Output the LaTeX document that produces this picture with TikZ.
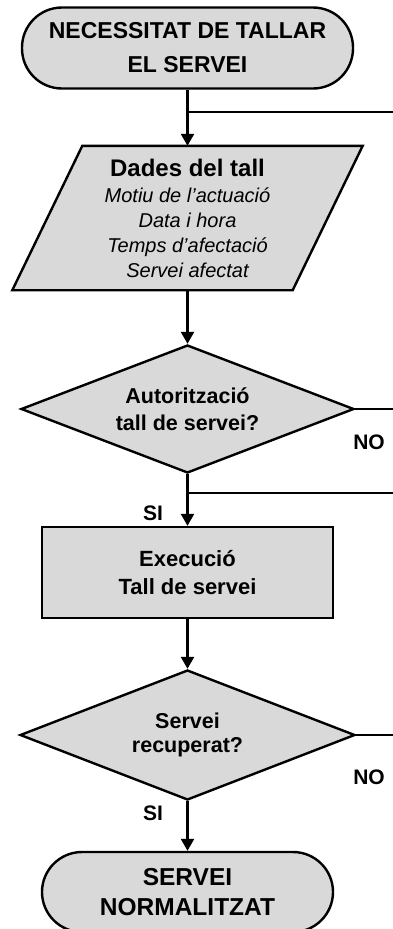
\documentclass[tikz,border=0pt]{standalone}
\usepackage{fontspec}
\setmainfont{Liberation Sans}
\usetikzlibrary{shapes.geometric,arrows.meta,backgrounds}
\definecolor{boxgray}{HTML}{D9D9D9}
\begin{document}
\begin{tikzpicture}[x=1pt,y=1pt,
  shapeline/.style={draw=black,line width=2.4pt,fill=boxgray},
  terminal/.style={shapeline,rounded corners=40pt,minimum width=331pt,minimum height=81pt,align=center},
  decision/.style={shapeline,diamond,shape aspect=2.6,inner sep=2pt,minimum width=333pt,minimum height=128pt,align=center,font=\bfseries\fontsize{21.5}{27}\selectfont},
  process/.style={shapeline,rectangle,minimum width=291pt,minimum height=91pt,align=center,font=\bfseries\fontsize{22}{28}\selectfont},
  flow/.style={line width=2.4pt,-{Triangle[length=12pt,width=13pt]}},
  link/.style={line width=2pt},
  lbl/.style={font=\bfseries\fontsize{21}{24}\selectfont}
]
\useasboundingbox (0,0) rectangle (393,-929);
\clip (0,0) rectangle (393,-929);

\node[terminal,font=\bfseries\fontsize{23}{34}\selectfont] (start) at (187.5,-48) {\raisebox{-5pt}{NECESSITAT DE TALLAR}\\\raisebox{-5pt}{EL SERVEI}};

\node[rectangle,minimum width=280pt,minimum height=144pt,inner sep=0pt,align=center,font=\fontsize{20}{25}\selectfont] (data) at (187.5,-218)
  {{\bfseries\fontsize{24}{28}\selectfont Dades del tall}\\[1pt]
   \itshape Motiu de l'actuació\\ \itshape Data i hora\\ \itshape Temps d'afectació\\ \itshape Servei afectat};
\begin{scope}[on background layer]
\draw[shapeline] ([xshift=-35pt]data.south west) -- ([xshift=-35pt]data.south east)
  -- ([xshift=35pt]data.north east) -- ([xshift=35pt]data.north west) -- cycle;
\end{scope}

\node[decision] (q1) at (187.5,-409) {Autorització\\tall de servei?};
\node[process] (exec) at (187.5,-572.5) {Execució\\Tall de servei};
\node[decision,font=\bfseries\fontsize{21.5}{24}\selectfont,minimum width=335pt,minimum height=130pt] (q2) at (187.5,-735) {Servei\\recuperat?};
\node[terminal,minimum width=291pt,minimum height=80pt,font=\bfseries\fontsize{24.5}{30}\selectfont] (stop) at (187.5,-892) {SERVEI\\NORMALITZAT};

\coordinate (j1) at (187.5,-112);
\coordinate (r1) at (393,-112);
\coordinate (r2) at (393,-409);
\coordinate (j2) at (187.5,-493);
\coordinate (r3) at (393,-493);
\coordinate (r4) at (393,-735);

\draw[flow] (start.south) -- (data.north);
\draw[link] (j1) -- (r1);
\draw[flow] (data.south) -- (q1.north);
\draw[link] (q1.east) -- (r2);
\draw[flow] (q1.south) -- (exec.north);
\draw[link] (j2) -- (r3);
\draw[flow] (exec.south) -- (q2.north);
\draw[link] (q2.east) -- (r4);
\draw[flow] (q2.south) -- (stop.north);

\node[lbl] (no1) at (369,-442) {NO};
\node[lbl] (si1) at (153,-513) {SI};
\node[lbl] (no2) at (369,-777) {NO};
\node[lbl] (si2) at (153,-813) {SI};
\end{tikzpicture}
\end{document}
